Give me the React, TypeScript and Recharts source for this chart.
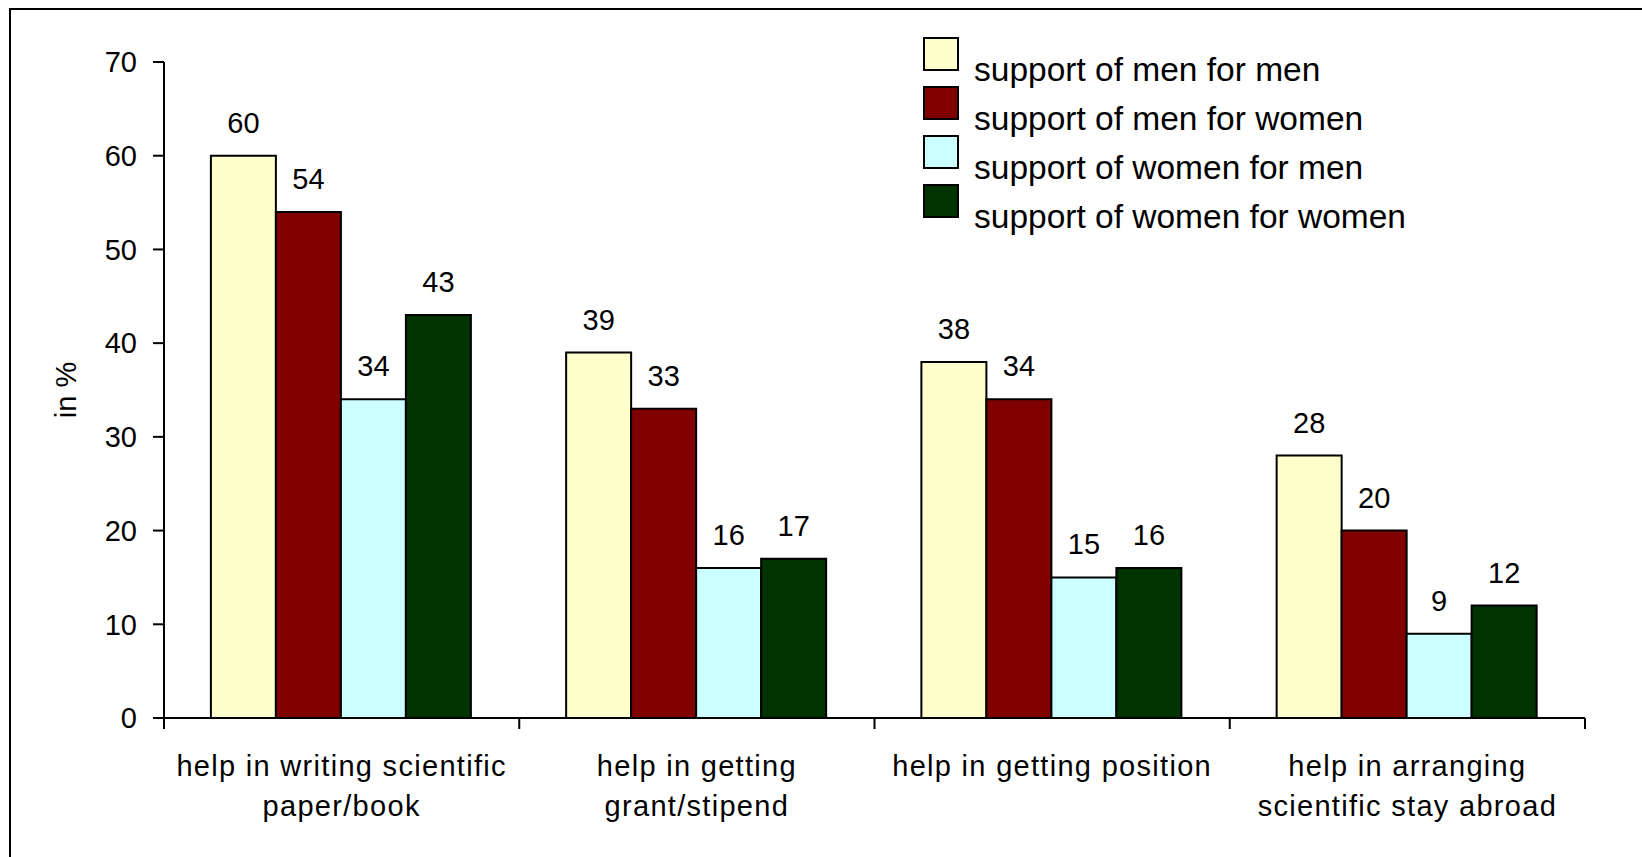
import React from 'react';
import { BarChart, Bar, XAxis, YAxis, Legend, LabelList } from 'recharts';

// Survey categories (line breaks mark the wrapped axis labels)
const categories = [
  'help in writing scientific\npaper/book',
  'help in getting\ngrant/stipend',
  'help in getting position',
  'help in arranging\nscientific stay abroad',
];

// Share of respondents, in %
const menForMen = [60, 39, 38, 28];
const menForWomen = [54, 33, 34, 20];
const womenForMen = [34, 16, 15, 9];
const womenForWomen = [43, 17, 16, 12];

const seriesKeys = ['menForMen', 'menForWomen', 'womenForMen', 'womenForWomen'];
const seriesNames = [
  'support of men for men',
  'support of men for women',
  'support of women for men',
  'support of women for women',
];
const seriesColors = ['#FFFFCC', '#800000', '#CCFFFF', '#003300'];

const yTicks = [0, 10, 20, 30, 40, 50, 60, 70];
const yAxisTitle = 'in %';

const data = categories.map((category, i) => ({
  category,
  menForMen: menForMen[i],
  menForWomen: menForWomen[i],
  womenForMen: womenForMen[i],
  womenForWomen: womenForWomen[i],
}));

// Layout
const WIDTH = 1642;
const HEIGHT = 857;
const PLOT_LEFT = 164;
const PLOT_RIGHT = 1585;
const PLOT_TOP = 62;
const PLOT_BOTTOM = 718;
const HALF_BAND = (PLOT_RIGHT - PLOT_LEFT) / categories.length / 2;
const FONT = '"Liberation Sans", Arial, Helvetica, sans-serif';

const CategoryTick = (props: any) => {
  const { x, y, payload, index } = props;
  const lines = String(payload.value).split('\n');
  const isLast = index === categories.length - 1;
  return (
    <g>
      <line x1={x - HALF_BAND} x2={x - HALF_BAND} y1={y} y2={y + 11} stroke="#000" strokeWidth={2} />
      {isLast && (
        <line x1={x + HALF_BAND} x2={x + HALF_BAND} y1={y} y2={y + 11} stroke="#000" strokeWidth={2} />
      )}
      {lines.map((line, i) => (
        <text
          key={i}
          x={x}
          y={y + 58 + i * 40}
          textAnchor="middle"
          fontSize={29}
          fill="#000"
          style={{ letterSpacing: '1.3px' }}
        >
          {line}
        </text>
      ))}
    </g>
  );
};

const YTitle = (props: any) => {
  const vb = props.viewBox || { y: PLOT_TOP, height: PLOT_BOTTOM - PLOT_TOP };
  const cy = vb.y + vb.height / 2;
  const cx = 66;
  return (
    <text
      x={cx}
      y={cy}
      transform={`rotate(-90, ${cx}, ${cy})`}
      textAnchor="middle"
      dominantBaseline="central"
      fontSize={29}
      fill="#000"
    >
      {yAxisTitle}
    </text>
  );
};

const LegendBox = () => (
  <div style={{ position: 'relative', width: 520, height: 200, fontFamily: FONT }}>
    {seriesNames.map((name, i) => (
      <React.Fragment key={name}>
        <div
          style={{
            position: 'absolute',
            left: 0,
            top: i * 49,
            width: 36,
            height: 34,
            boxSizing: 'border-box',
            border: '2px solid #000',
            background: seriesColors[i],
          }}
        />
        <div
          style={{
            position: 'absolute',
            left: 51,
            top: i * 49 + 17,
            fontSize: 33.5,
            lineHeight: '32px',
            color: '#000',
            whiteSpace: 'nowrap',
          }}
        >
          {name}
        </div>
      </React.Fragment>
    ))}
  </div>
);

export default function App() {
  return (
    <>
      <style>{`html, body { margin: 0; padding: 0; overflow: hidden; background: #fff; scrollbar-width: none; }`}</style>
      <div
        style={{
          position: 'fixed',
          left: 0,
          top: 0,
          width: WIDTH,
          height: HEIGHT,
          overflow: 'hidden',
          background: '#fff',
          fontFamily: FONT,
        }}
      >
        {/* chart frame: only its left and top edges fall inside the page */}
        <div
          style={{
            position: 'absolute',
            left: 9,
            top: 8,
            width: 1800,
            height: 1000,
            borderLeft: '2px solid #000',
            borderTop: '2px solid #000',
            boxSizing: 'border-box',
          }}
        />
        <div style={{ position: 'absolute', left: 0, top: 0 }}>
          <BarChart
            width={WIDTH}
            height={HEIGHT}
            data={data}
            margin={{ top: PLOT_TOP, right: WIDTH - PLOT_RIGHT, bottom: 0, left: 0 }}
            barCategoryGap="13.2%"
            barGap={0}
          >
            <XAxis
              dataKey="category"
              height={HEIGHT - PLOT_BOTTOM}
              interval={0}
              axisLine={{ stroke: '#000', strokeWidth: 2 }}
              tickLine={false}
              tickSize={0}
              tickMargin={0}
              tick={<CategoryTick />}
            />
            <YAxis
              width={PLOT_LEFT}
              domain={[0, 70]}
              ticks={yTicks}
              interval={0}
              axisLine={{ stroke: '#000', strokeWidth: 2 }}
              tickLine={{ stroke: '#000', strokeWidth: 2 }}
              tickSize={11}
              tickMargin={16}
              tick={{ fontSize: 29, fill: '#000' }}
              label={<YTitle />}
            />
            <Legend
              layout="vertical"
              align="center"
              verticalAlign="middle"
              wrapperStyle={{ left: 923, top: 37, width: 520, height: 200 }}
              content={<LegendBox />}
            />
            {seriesKeys.map((key, i) => (
              <Bar
                key={key}
                dataKey={key}
                name={seriesNames[i]}
                fill={seriesColors[i]}
                stroke="#000"
                strokeWidth={2}
                isAnimationActive={false}
              >
                <LabelList dataKey={key} position="top" offset={23} fontSize={29} fill="#000" />
              </Bar>
            ))}
          </BarChart>
        </div>
      </div>
    </>
  );
}
